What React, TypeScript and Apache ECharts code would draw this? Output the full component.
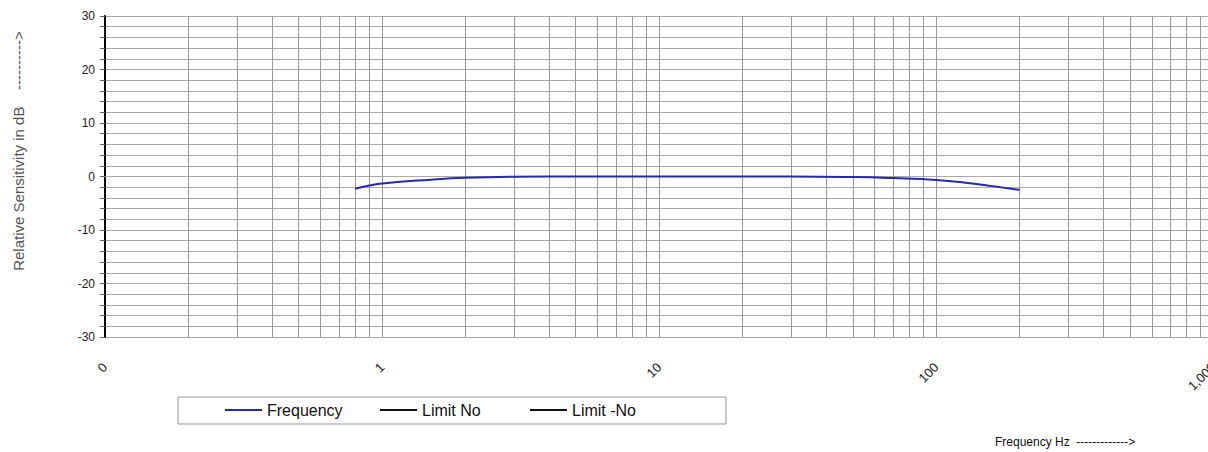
import React, { useEffect, useRef } from "react";
import * as echarts from "echarts";

// Frequency response data (Hz, dB)
const freqHz = [0.8, 0.9, 1, 1.5, 2, 3, 5, 10, 20, 30, 50, 70, 100, 130, 160, 200];
const sensDb = [-2.3, -1.7, -1.3, -0.6, -0.25, -0.05, 0, 0, 0, 0, -0.1, -0.3, -0.65, -1.2, -1.8, -2.5];

// Tick labels
const xTickValues = [0.1, 1, 10, 100, 1000];
const xTickLabels = ["0", "1", "10", "100", "1,000"];
const yTickLabels = [-30, -20, -10, 0, 10, 20, 30];

// Vertical grid lines of the log paper
const xGridLines = [
  0.2, 0.3, 0.4, 0.5, 0.6, 0.7, 0.8, 0.9, 1,
  2, 3, 4, 5, 6, 7, 8, 9, 10,
  20, 30, 40, 50, 60, 70, 80, 90, 100,
  200, 300, 400, 500, 600, 700, 800, 900,
];

const seriesNames = ["Frequency", "Limit No", "Limit -No"];

const FONT = "Liberation Sans, Arial, sans-serif";

export default function App() {
  const ref = useRef<HTMLDivElement>(null);

  useEffect(() => {
    if (!ref.current) return;
    const chart = echarts.init(ref.current, undefined, { renderer: "svg" });

    const legendBase = {
      icon: "rect",
      itemWidth: 37,
      itemHeight: 2,
      itemGap: 5,
      top: 397,
      textStyle: { fontFamily: FONT, fontSize: 16, color: "#111" },
      selectedMode: false,
    };

    chart.setOption({
      animation: false,
      backgroundColor: "#fff",
      grid: { left: 105, top: 16, width: 1109, height: 321, containLabel: false },
      xAxis: {
        type: "log",
        logBase: 10,
        min: 0.1,
        max: 1000,
        axisLine: { show: true, lineStyle: { color: "#aaa", width: 1 } },
        axisTick: { show: false },
        splitLine: { show: false },
        axisLabel: {
          rotate: 45,
          margin: 28,
          fontFamily: FONT,
          fontSize: 13,
          color: "#222",
          showMinLabel: true,
          showMaxLabel: true,
          formatter: (v: number) => {
            const i = xTickValues.findIndex((t) => Math.abs(v - t) / t < 1e-6);
            return i >= 0 ? xTickLabels[i] : "";
          },
        },
      },
      yAxis: {
        type: "value",
        min: -30,
        max: 30,
        interval: 2,
        axisLine: { show: true, lineStyle: { color: "#000", width: 2 } },
        axisTick: { show: true, length: 5, lineStyle: { color: "#666" } },
        splitLine: { show: true, lineStyle: { color: "#a8a8a8", width: 1 } },
        axisLabel: {
          margin: 10,
          fontFamily: FONT,
          fontSize: 12,
          color: "#222",
          formatter: (v: number) => (yTickLabels.includes(v) ? String(v) : ""),
        },
      },
      legend: [
        { ...legendBase, left: 220, data: [seriesNames[0]] },
        { ...legendBase, left: 375, data: [seriesNames[1]] },
        { ...legendBase, left: 525, data: [seriesNames[2]] },
      ],
      graphic: [
        {
          type: "rect",
          shape: { x: 178, y: 397, width: 548, height: 27 },
          style: { fill: "none", stroke: "#999", lineWidth: 1 },
          z: -1,
        },
        {
          type: "text",
          x: 18,
          y: 151,
          rotation: Math.PI / 2,
          style: {
            text: "Relative Sensitivity in dB    ---------->",
            fontFamily: FONT,
            fontSize: 15,
            fill: "#555",
            align: "center",
            verticalAlign: "middle",
          },
        },
        {
          type: "text",
          x: 995,
          y: 442,
          style: {
            text: "Frequency Hz  ------------->",
            fontFamily: FONT,
            fontSize: 12,
            fill: "#111",
            align: "left",
            verticalAlign: "middle",
          },
        },
      ],
      series: [
        {
          name: seriesNames[0],
          type: "line",
          data: freqHz.map((f, i) => [f, sensDb[i]]),
          smooth: true,
          symbol: "none",
          lineStyle: { color: "#2828a8", width: 2 },
          itemStyle: { color: "#2828a8" },
          z: 5,
        },
        {
          name: seriesNames[1],
          type: "line",
          data: [],
          symbol: "none",
          lineStyle: { color: "#111", width: 2 },
          itemStyle: { color: "#111" },
          markLine: {
            silent: true,
            symbol: ["none", "none"],
            label: { show: false },
            lineStyle: { color: "#999", type: "solid", width: 1 },
            data: xGridLines.map((v) => ({ xAxis: v })),
          },
        },
        {
          name: seriesNames[2],
          type: "line",
          data: [],
          symbol: "none",
          lineStyle: { color: "#111", width: 2 },
          itemStyle: { color: "#111" },
        },
      ],
    });

    return () => chart.dispose();
  }, []);

  return (
    <div
      ref={ref}
      style={{ position: "fixed", left: 0, top: 0, width: 1220, height: 452 }}
    />
  );
}
